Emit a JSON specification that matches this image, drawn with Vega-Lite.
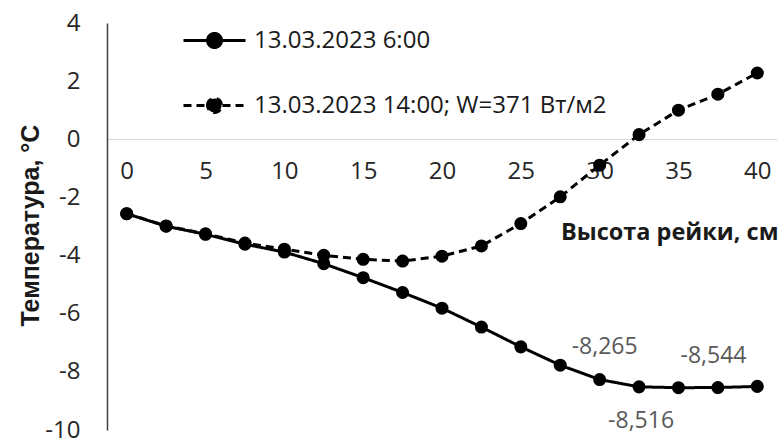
{
  "$schema": "https://vega.github.io/schema/vega-lite/v6.json",
  "autosize": "none",
  "width": 670,
  "height": 407,
  "padding": {"left": 107, "top": 23, "right": 5, "bottom": 11},
  "background": "white",
  "config": {
    "font": "Open Sans",
    "view": {"stroke": null},
    "axis": {"grid": false, "ticks": false, "labelFont": "Open Sans", "labelFontSize": 24, "labelColor": "#262626", "titleFont": "Open Sans", "titleFontSize": 23.5, "titleFontWeight": "bold", "titleColor": "#1a1a1a"}
  },
  "datasets": {
    "main": [
      {"h": 0, "t": -2.56, "s": "13.03.2023 6:00"},
      {"h": 2.5, "t": -2.99, "s": "13.03.2023 6:00"},
      {"h": 5, "t": -3.27, "s": "13.03.2023 6:00"},
      {"h": 7.5, "t": -3.61, "s": "13.03.2023 6:00"},
      {"h": 10, "t": -3.88, "s": "13.03.2023 6:00"},
      {"h": 12.5, "t": -4.28, "s": "13.03.2023 6:00"},
      {"h": 15, "t": -4.76, "s": "13.03.2023 6:00"},
      {"h": 17.5, "t": -5.27, "s": "13.03.2023 6:00"},
      {"h": 20, "t": -5.81, "s": "13.03.2023 6:00"},
      {"h": 22.5, "t": -6.46, "s": "13.03.2023 6:00"},
      {"h": 25, "t": -7.14, "s": "13.03.2023 6:00"},
      {"h": 27.5, "t": -7.77, "s": "13.03.2023 6:00"},
      {"h": 30, "t": -8.265, "s": "13.03.2023 6:00", "label": "-8,265"},
      {"h": 32.5, "t": -8.516, "s": "13.03.2023 6:00", "label": "-8,516"},
      {"h": 35, "t": -8.544, "s": "13.03.2023 6:00", "label": "-8,544"},
      {"h": 37.5, "t": -8.54, "s": "13.03.2023 6:00"},
      {"h": 40, "t": -8.5, "s": "13.03.2023 6:00"},
      {"h": 0, "t": -2.56, "s": "13.03.2023  14:00; W=371 Вт/м2"},
      {"h": 2.5, "t": -2.98, "s": "13.03.2023  14:00; W=371 Вт/м2"},
      {"h": 5, "t": -3.25, "s": "13.03.2023  14:00; W=371 Вт/м2"},
      {"h": 7.5, "t": -3.57, "s": "13.03.2023  14:00; W=371 Вт/м2"},
      {"h": 10, "t": -3.78, "s": "13.03.2023  14:00; W=371 Вт/м2"},
      {"h": 12.5, "t": -3.99, "s": "13.03.2023  14:00; W=371 Вт/м2"},
      {"h": 15, "t": -4.13, "s": "13.03.2023  14:00; W=371 Вт/м2"},
      {"h": 17.5, "t": -4.19, "s": "13.03.2023  14:00; W=371 Вт/м2"},
      {"h": 20, "t": -4.02, "s": "13.03.2023  14:00; W=371 Вт/м2"},
      {"h": 22.5, "t": -3.67, "s": "13.03.2023  14:00; W=371 Вт/м2"},
      {"h": 25, "t": -2.9, "s": "13.03.2023  14:00; W=371 Вт/м2"},
      {"h": 27.5, "t": -1.98, "s": "13.03.2023  14:00; W=371 Вт/м2"},
      {"h": 30, "t": -0.89, "s": "13.03.2023  14:00; W=371 Вт/м2"},
      {"h": 32.5, "t": 0.16, "s": "13.03.2023  14:00; W=371 Вт/м2"},
      {"h": 35, "t": 1.0, "s": "13.03.2023  14:00; W=371 Вт/м2"},
      {"h": 37.5, "t": 1.55, "s": "13.03.2023  14:00; W=371 Вт/м2"},
      {"h": 40, "t": 2.28, "s": "13.03.2023  14:00; W=371 Вт/м2"}
    ]
  },
  "data": {"name": "main"},
  "encoding": {
    "x": {"field": "h", "type": "quantitative", "scale": {"domain": [-1.25, 41.25], "nice": false, "zero": false},
      "axis": {"values": [0, 5, 10, 15, 20, 25, 30, 35, 40], "offset": -291, "domainColor": "#d9d9d9", "domainWidth": 1, "labelPadding": 20, "labelFlush": false,
        "title": "Высота рейки, см", "titleX": 671, "titleY": 93, "titleAlign": "right", "titleBaseline": "middle", "titleAnchor": null}},
    "y": {"field": "t", "type": "quantitative", "scale": {"domain": [-10, 4], "nice": false, "zero": false},
      "axis": {"values": [-10, -8, -6, -4, -2, 0, 2, 4], "labelExpr": "replace(datum.label, '−', '-')", "domainColor": "#404040", "domainWidth": 1.5, "labelPadding": 27, "labelFlush": false,
        "title": "Температура, °C", "titleFont": "Liberation Sans", "titleFontSize": 25, "titleX": -77, "titleY": 202, "titleAngle": -90, "titleAlign": "center", "titleBaseline": "middle", "titleAnchor": null}}
  },
  "layer": [
    {
      "mark": {"type": "line", "color": "black", "strokeWidth": 3},
      "encoding": {
        "strokeDash": {"field": "s", "type": "nominal",
          "scale": {"domain": ["13.03.2023 6:00", "13.03.2023  14:00; W=371 Вт/м2"], "range": [[1, 0], [8, 5]]},
          "legend": {"title": null, "orient": "none", "legendX": 75, "legendY": -15, "rowPadding": 19,
            "symbolType": "M-1,0H1M-0.226,0A0.226,0.226 0 1 1 0.226,0A0.226,0.226 0 1 1 -0.226,0Z",
            "symbolSize": 3844, "symbolStrokeWidth": 3, "symbolStrokeColor": "black", "symbolFillColor": "black",
            "labelFont": "Open Sans", "labelFontSize": 24, "labelColor": "#1a1a1a", "labelOffset": 7, "labelLimit": 600,
            "encode": {"symbols": {"update": {"fill": {"value": "black"}, "stroke": {"value": "black"}}}}}
        }
      }
    },
    {
      "mark": {"type": "point", "filled": true, "color": "black", "size": 170, "opacity": 1}
    },
    {
      "transform": [{"filter": "datum.label === '-8,265'"}],
      "mark": {"type": "text", "fontSize": 23, "color": "#595959", "dx": 5, "dy": -33, "font": "Open Sans"},
      "encoding": {"text": {"field": "label"}}
    },
    {
      "transform": [{"filter": "datum.label === '-8,516'"}],
      "mark": {"type": "text", "fontSize": 23, "color": "#595959", "dx": 2, "dy": 34, "font": "Open Sans"},
      "encoding": {"text": {"field": "label"}}
    },
    {
      "transform": [{"filter": "datum.label === '-8,544'"}],
      "mark": {"type": "text", "fontSize": 23, "color": "#595959", "dx": 35, "dy": -32, "font": "Open Sans"},
      "encoding": {"text": {"field": "label"}}
    }
  ]
}
